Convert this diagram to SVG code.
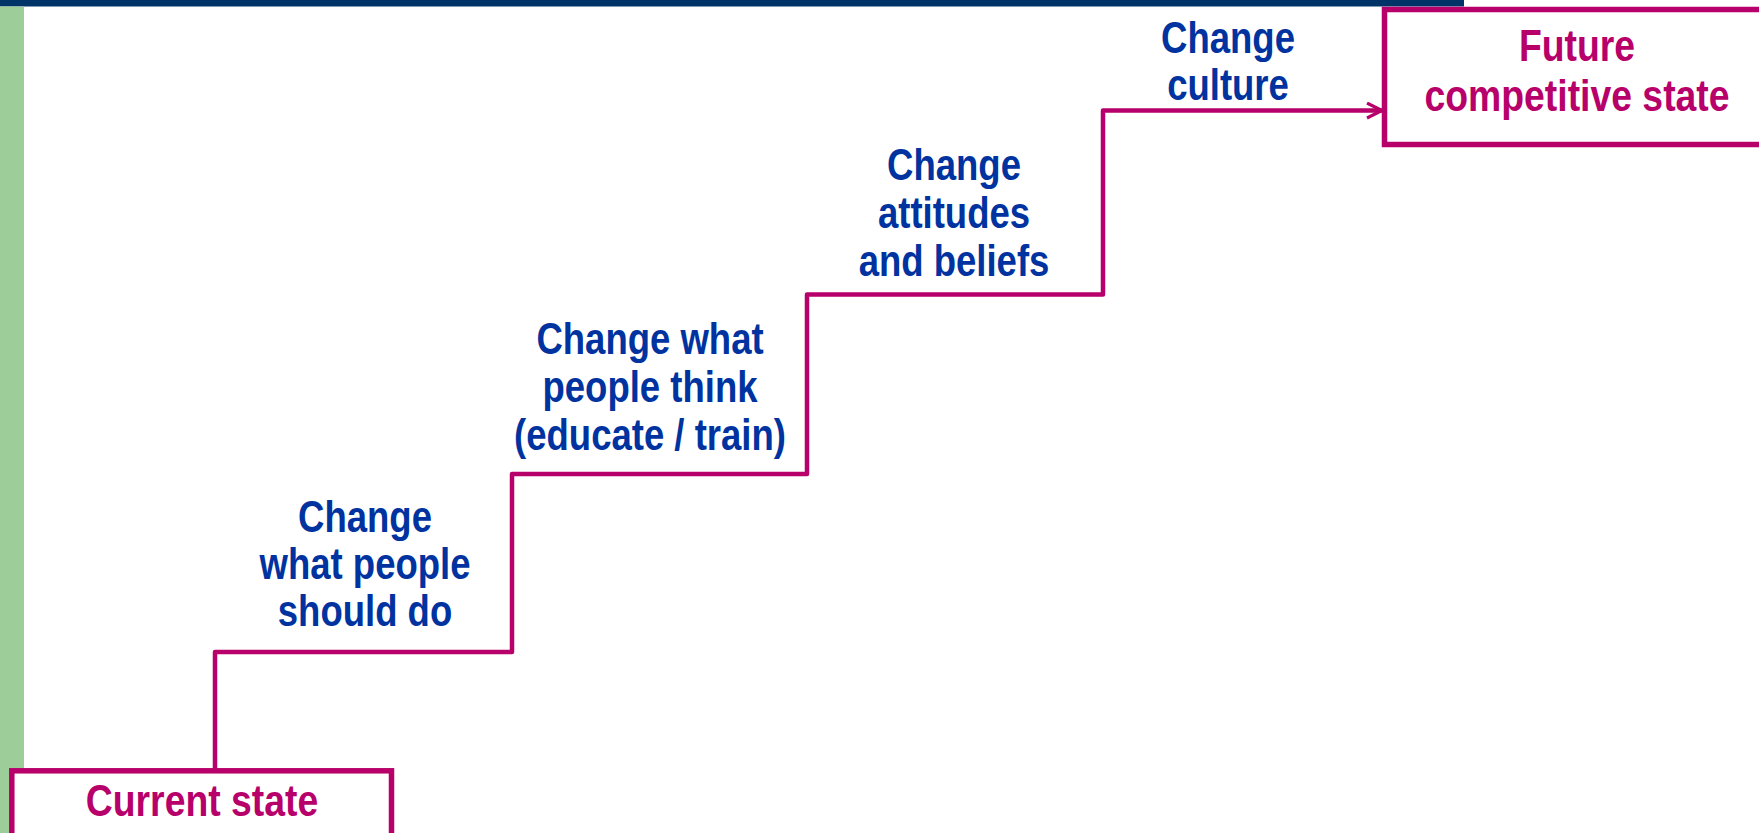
<svg xmlns="http://www.w3.org/2000/svg" width="1759" height="833" viewBox="0 0 1759 833">
  <style>
    .step { font-family: "Liberation Sans", Arial, sans-serif; font-weight: bold; font-size: 44px; fill: #0033A0; text-anchor: middle; }
    .state { font-family: "Liberation Sans", Arial, sans-serif; font-weight: bold; font-size: 45px; fill: #B8006B; text-anchor: middle; }
    .box { fill: #ffffff; stroke: #B8006B; stroke-width: 5.5; }
    .stair { fill: none; stroke: #B8006B; stroke-width: 4.5; stroke-linejoin: round; }
  </style>
  <defs>
    <marker id="chevron" markerUnits="userSpaceOnUse" markerWidth="22" markerHeight="22" refX="17" refY="9" orient="auto">
      <polyline points="2,1.5 17,9 2,16.5" fill="none" stroke="#B8006B" stroke-width="3.2" stroke-linejoin="miter"/>
    </marker>
  </defs>

  <rect x="0" y="0" width="1759" height="833" fill="#ffffff"/>
  <!-- page frame: title rule and left band -->
  <rect x="0" y="0" width="1464" height="6.5" fill="#003469"/>
  <rect x="0" y="6.5" width="24" height="826.5" fill="#9DCE9A"/>

  <!-- staircase connector -->
  <g id="connectors">
    <path class="stair" d="M215 771 V652 H512 V474 H807 V294.5 H1103 V110.5 H1382" marker-end="url(#chevron)"/>
  </g>

  <g id="current-state">
    <rect class="box" x="11.8" y="770.8" width="379.7" height="80"/>
    <g transform="translate(202 0) scale(0.83 1)">
      <text class="state" x="0" y="816">Current state</text>
    </g>
  </g>

  <g id="step-do">
    <g transform="translate(365 0) scale(0.83 1)">
      <text class="step" x="0" y="532">Change</text>
      <text class="step" x="0" y="579">what people</text>
      <text class="step" x="0" y="626">should do</text>
    </g>
  </g>

  <g id="step-think">
    <g transform="translate(650 0) scale(0.83 1)">
      <text class="step" x="0" y="354">Change what</text>
      <text class="step" x="0" y="402">people think</text>
      <text class="step" x="0" y="450">(educate / train)</text>
    </g>
  </g>

  <g id="step-attitudes">
    <g transform="translate(954 0) scale(0.83 1)">
      <text class="step" x="0" y="180">Change</text>
      <text class="step" x="0" y="228">attitudes</text>
      <text class="step" x="0" y="276">and beliefs</text>
    </g>
  </g>

  <g id="step-culture">
    <g transform="translate(1228 0) scale(0.83 1)">
      <text class="step" x="0" y="53">Change</text>
      <text class="step" x="0" y="100">culture</text>
    </g>
  </g>

  <g id="future-state">
    <rect class="box" x="1384.5" y="9.5" width="390" height="135"/>
    <g transform="translate(1577 0) scale(0.83 1)">
      <text class="state" x="0" y="61">Future</text>
      <text class="state" x="0" y="111">competitive state</text>
    </g>
  </g>
</svg>
